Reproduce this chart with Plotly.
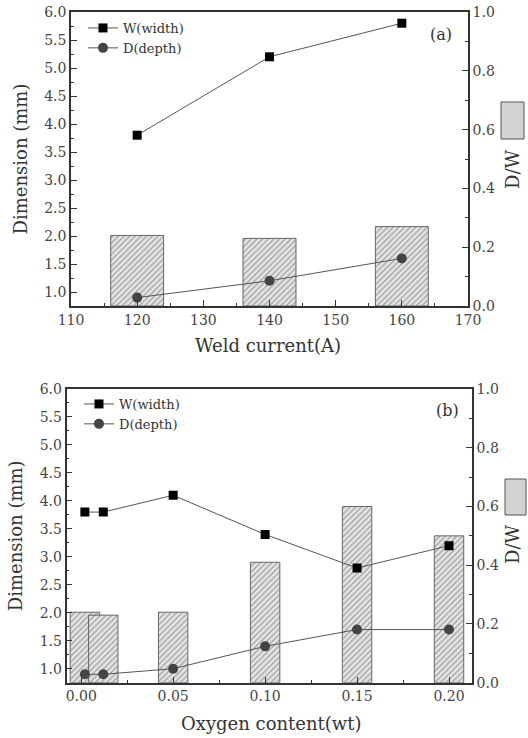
import plotly.graph_objects as go

# ---- data: panel (a) ----
current = [120, 140, 160]
width_a = [3.8, 5.2, 5.8]
depth_a = [0.9, 1.2, 1.6]
ratio_a = [0.24, 0.23, 0.27]

# ---- data: panel (b) ----
oxygen = [0.002, 0.012, 0.05, 0.10, 0.15, 0.20]
width_b = [3.8, 3.8, 4.1, 3.4, 2.8, 3.2]
depth_b = [0.9, 0.9, 1.0, 1.4, 1.7, 1.7]
ratio_b = [0.24, 0.23, 0.24, 0.41, 0.60, 0.50]

W, H = 528, 738
FONT = "DejaVu Serif"
TXT = "#333333"
AX = "#333333"

def px(x):
    return x / W

def py(y):
    return 1 - y / H

bar_style = dict(
    color="#e4e4e4",
    pattern=dict(shape="/", fgcolor="#606060", bgcolor="#e6e6e6", size=4, solidity=0.35),
    line=dict(color="#666666", width=1),
)

fig = go.Figure()

# bars (base axis, drawn beneath)
fig.add_trace(go.Bar(x=current, y=ratio_a, width=8, marker=bar_style,
                     xaxis="x", yaxis="y", showlegend=False))
fig.add_trace(go.Bar(x=oxygen, y=ratio_b, width=0.016, marker=bar_style,
                     xaxis="x2", yaxis="y3", showlegend=False))

line_w = dict(color="#555555", width=1)
fig.add_trace(go.Scatter(x=current, y=width_a, mode="lines+markers", name="W(width)",
                         line=line_w, marker=dict(symbol="square", size=9, color="#000000"),
                         xaxis="x", yaxis="y2", legend="legend"))
fig.add_trace(go.Scatter(x=current, y=depth_a, mode="lines+markers", name="D(depth)",
                         line=line_w, marker=dict(symbol="circle", size=10, color="#444444"),
                         xaxis="x", yaxis="y2", legend="legend"))
fig.add_trace(go.Scatter(x=oxygen, y=width_b, mode="lines+markers", name="W(width)",
                         line=line_w, marker=dict(symbol="square", size=9, color="#000000"),
                         xaxis="x2", yaxis="y4", legend="legend2"))
fig.add_trace(go.Scatter(x=oxygen, y=depth_b, mode="lines+markers", name="D(depth)",
                         line=line_w, marker=dict(symbol="circle", size=10, color="#444444"),
                         xaxis="x2", yaxis="y4", legend="legend2"))

tickfont = dict(family=FONT, size=14, color="#444444")
titlefont = dict(family=FONT, size=18, color=TXT)
common = dict(showline=True, linecolor=AX, linewidth=1.5, ticks="inside", ticklen=6,
              tickcolor=AX, tickwidth=1.2, showgrid=False, zeroline=False, tickfont=tickfont,
              automargin=False)
minor = lambda d: dict(dtick=d, ticks="inside", ticklen=3, tickcolor=AX, tickwidth=1.2, showgrid=False)

top_x = [px(71), px(468)]
top_y = [py(306), py(12)]
bot_x = [px(66.5), px(472)]
bot_y = [py(682.7), py(389)]

legfont = dict(family=FONT, size=13, color=TXT)

fig.update_layout(
    width=W, height=H, autosize=False,
    margin=dict(l=0, r=0, t=0, b=0),
    paper_bgcolor="white", plot_bgcolor="rgba(0,0,0,0)",
    barmode="overlay",
    font=dict(family=FONT, color=TXT),
    xaxis=dict(domain=top_x, anchor="y", range=[110, 170], dtick=10, minor=minor(5),
               mirror=True, **common),
    yaxis=dict(domain=top_y, anchor="x", side="right", range=[0, 1.0], dtick=0.2,
               tickformat=".1f", minor=minor(0.1), **common),
    yaxis2=dict(overlaying="y", anchor="x", side="left", range=[0.75, 6.0], dtick=0.5,
                tickformat=".1f", minor=minor(0.25),
                title=dict(text="Dimension (mm)", font=titlefont, standoff=12), **common),
    xaxis2=dict(domain=bot_x, anchor="y3", range=[-0.008, 0.2125], dtick=0.05,
                tickformat=".2f", minor=minor(0.025), mirror=True, **common),
    yaxis3=dict(domain=bot_y, anchor="x2", side="right", range=[0, 1.0], dtick=0.2,
                tickformat=".1f", minor=minor(0.1), **common),
    yaxis4=dict(overlaying="y3", anchor="x2", side="left", range=[0.75, 6.0], dtick=0.5,
                tickformat=".1f", minor=minor(0.25),
                title=dict(text="Dimension (mm)", font=titlefont, standoff=12), **common),
    legend=dict(x=px(83), y=py(13), xanchor="left", yanchor="top", bgcolor="rgba(0,0,0,0)",
                font=legfont, itemwidth=30, tracegroupgap=0),
    legend2=dict(x=px(79), y=py(389), xanchor="left", yanchor="top", bgcolor="rgba(0,0,0,0)",
                 font=legfont, itemwidth=30, tracegroupgap=0),
)

annots = [
    dict(text="(a)", x=px(441), y=py(35), font=dict(family=FONT, size=16, color=TXT)),
    dict(text="(b)", x=px(447), y=py(410), font=dict(family=FONT, size=16, color=TXT)),
    dict(text="Weld current(A)", x=px(268), y=py(345), font=titlefont),
    dict(text="Oxygen content(wt)", x=px(271), y=py(723), font=titlefont),
]
for a in annots:
    fig.add_annotation(xref="paper", yref="paper", showarrow=False, xanchor="center",
                       yanchor="middle", **a)

for yc in (170, 545):
    fig.add_annotation(text="D/W", xref="paper", yref="paper", x=px(512), y=py(yc),
                       showarrow=False, textangle=-90, xanchor="center", yanchor="middle",
                       font=dict(family=FONT, size=18, color=TXT))

for (x0, x1, y0, y1) in [(501, 524, 102, 139), (505, 526, 479, 515)]:
    fig.add_shape(type="rect", xref="paper", yref="paper",
                  x0=px(x0), x1=px(x1), y0=py(y1), y1=py(y0),
                  fillcolor="#d2d2d2", line=dict(color="#555555", width=1))

fig.write_html("out.html", config={"displayModeBar": False},
               post_script="document.body.style.margin='0';document.body.style.padding='0';")
